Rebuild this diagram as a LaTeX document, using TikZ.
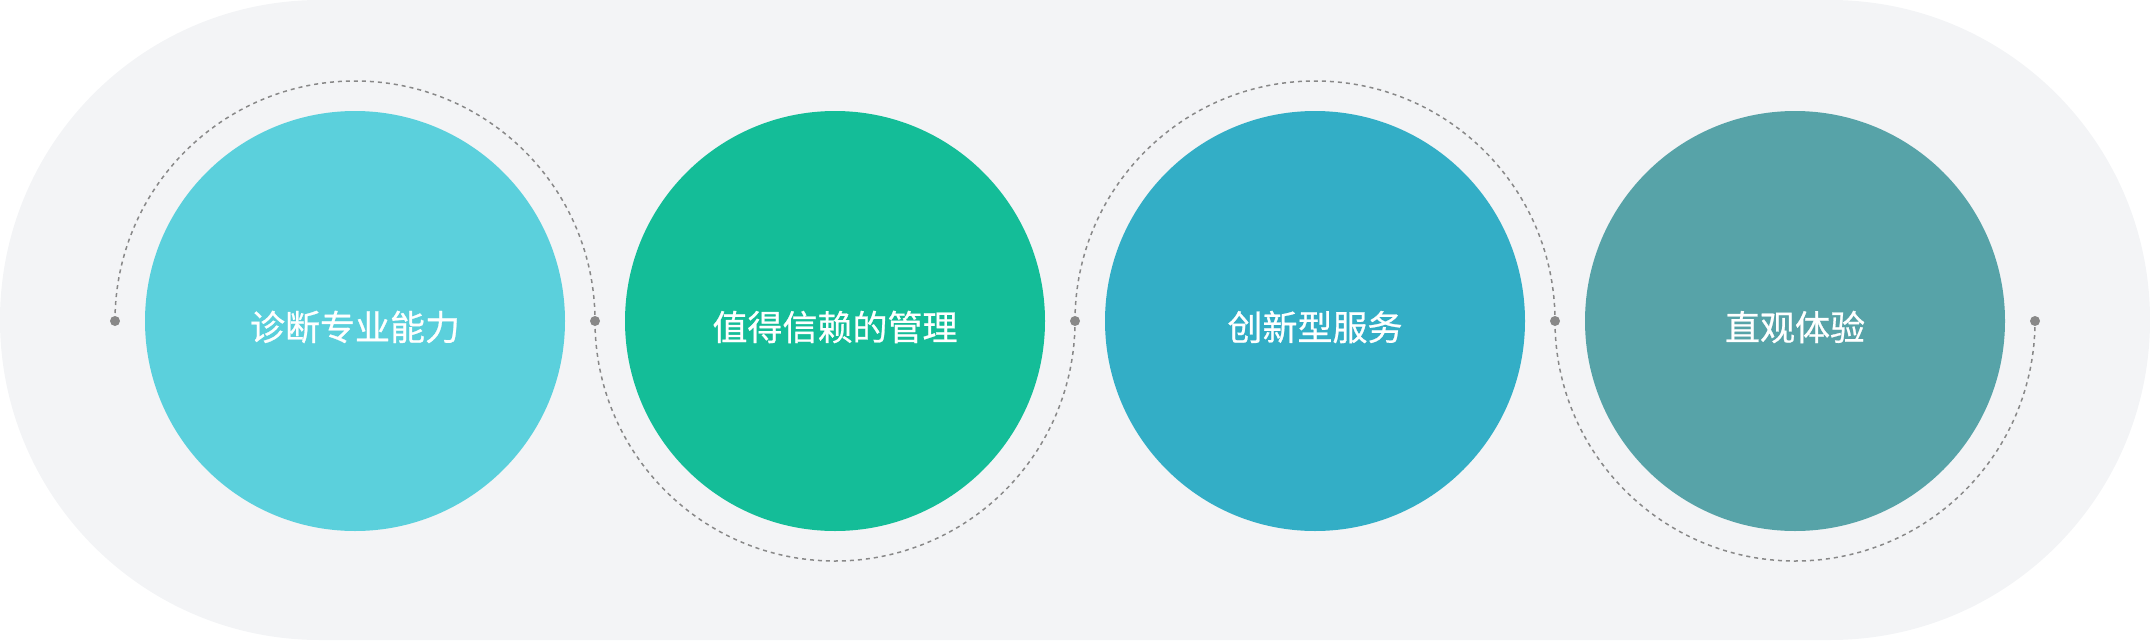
\documentclass[tikz,border=0pt]{standalone}
\usepackage{fontspec}
\newfontfamily\cjk[FakeBold=0.7]{Noto Sans CJK SC}
\definecolor{bgc}{HTML}{F3F4F6}
\definecolor{c1}{HTML}{5BD0DC}
\definecolor{c2}{HTML}{14BD98}
\definecolor{c3}{HTML}{33AEC6}
\definecolor{c4}{HTML}{57A3A8}
\definecolor{dgray}{HTML}{888888}
\begin{document}
\begin{tikzpicture}[x=1pt,y=-1pt,
  bubble/.style={circle,minimum size=420pt,inner sep=0pt},
  label/.style={text=white,font=\cjk\fontsize{35}{42}\selectfont},
  dotc/.style={circle,fill=dgray,minimum size=10pt,inner sep=0pt},
  dashline/.style={draw=dgray,line width=1.5pt,dash pattern=on 4pt off 4pt}]
\useasboundingbox (0,0) rectangle (2150,640);
\fill[bgc,rounded corners=319.9pt] (0,0) rectangle (2150,640);
% dashed arcs
\draw[dashline] (115,321) arc[start angle=180,end angle=360,radius=240];
\draw[dashline] (595,321) arc[start angle=180,end angle=0,radius=240];
\draw[dashline] (1075,321) arc[start angle=180,end angle=360,radius=240];
\draw[dashline] (1555,321) arc[start angle=180,end angle=0,radius=240];
% circles
\node[bubble,fill=c1] (b1) at (355,321) {};
\node[bubble,fill=c2] (b2) at (835,321) {};
\node[bubble,fill=c3] (b3) at (1315,321) {};
\node[bubble,fill=c4] (b4) at (1795,321) {};
\node[label] (t1) at (355,327) {诊断专业能力};
\node[label] (t2) at (835,327) {值得信赖的管理};
\node[label] (t3) at (1315,327) {创新型服务};
\node[label] (t4) at (1795,327) {直观体验};
% dots
\node[dotc] (d1) at (115,321) {};
\node[dotc] (d2) at (595,321) {};
\node[dotc] (d3) at (1075,321) {};
\node[dotc] (d4) at (1555,321) {};
\node[dotc] (d5) at (2035,321) {};
\end{tikzpicture}
\end{document}
